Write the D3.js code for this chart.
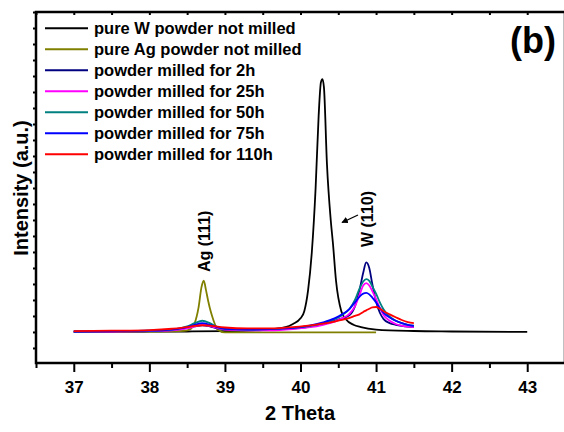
<!DOCTYPE html>
<html>
<head>
<meta charset="utf-8">
<script src="https://cdn.jsdelivr.net/npm/d3@7"></script>
<style>
body { margin: 0; background: #fff; }
text { font-family: "Liberation Sans", Arial, sans-serif; font-weight: bold; }
</style>
</head>
<body>
<script>
// XRD patterns, 2 Theta vs intensity (a.u., arbitrary units)
var xTicks = [37, 38, 39, 40, 41, 42, 43];

// pure W powder not milled
var wX = [37.0, 38.0, 38.5, 39.0, 39.5, 39.8, 39.9, 40.0, 40.05, 40.1, 40.15, 40.2, 40.24, 40.27, 40.29,
          40.31, 40.35, 40.4, 40.43, 40.47, 40.54, 40.6, 40.7, 40.8, 41.0, 41.5, 42.0, 43.0];
var wY = [0.0, 0.02, 0.03, 0.05, 0.12, 0.3, 0.5, 0.85, 1.3, 2.6, 5.0, 9.0, 13.5, 15.6, 15.8,
          15.3, 10.5, 7.0, 5.5, 3.2, 1.3, 0.8, 0.45, 0.3, 0.15, 0.06, 0.03, 0.0];

// pure Ag powder not milled
var agX = [37.0, 38.0, 38.4, 38.5, 38.55, 38.6, 38.65, 38.69, 38.72, 38.75, 38.78, 38.8, 38.83, 38.87,
           38.9, 39.0, 39.5, 40.0, 40.5, 41.0];
var agY = [0.0, 0.02, 0.05, 0.1, 0.2, 0.55, 1.5, 2.8, 3.2, 2.6, 1.9, 1.5, 1.0, 0.45,
           0.15, -0.03, -0.03, -0.03, -0.03, -0.03];

// milled powders
var milledX = [37.0, 37.5, 38.0, 38.3, 38.5, 38.6, 38.7, 38.8, 38.9, 39.0, 39.3, 39.6, 39.9, 40.1, 40.3,
               40.45, 40.55, 40.65, 40.72, 40.78, 40.83, 40.87, 40.91, 40.95, 41.0, 41.05, 41.1, 41.18,
               41.26, 41.34, 41.42, 41.5];
var milled2h = [0.02, 0.03, 0.06, 0.12, 0.25, 0.35, 0.42, 0.35, 0.22, 0.15, 0.12, 0.15, 0.22, 0.32, 0.5,
                0.7, 0.85, 1.05, 1.6, 2.6, 3.7, 4.35, 4.0, 3.0, 1.9, 1.2, 0.8, 0.55,
                0.45, 0.38, 0.33, 0.3];
var milled25h = [0.02, 0.03, 0.05, 0.1, 0.22, 0.35, 0.45, 0.38, 0.25, 0.15, 0.1, 0.1, 0.18, 0.28, 0.45,
                 0.65, 0.85, 1.15, 1.6, 2.3, 2.9, 3.05, 2.9, 2.55, 2.05, 1.5, 1.05, 0.7,
                 0.5, 0.4, 0.33, 0.3];
var milled50h = [0.03, 0.05, 0.08, 0.15, 0.35, 0.55, 0.7, 0.55, 0.3, 0.2, 0.15, 0.18, 0.25, 0.35, 0.55,
                 0.8, 1.05, 1.45, 2.0, 2.7, 3.15, 3.3, 3.2, 2.85, 2.4, 1.85, 1.4, 0.95,
                 0.7, 0.55, 0.45, 0.4];
var milled75h = [0.03, 0.05, 0.08, 0.15, 0.3, 0.45, 0.55, 0.45, 0.3, 0.2, 0.15, 0.18, 0.25, 0.38, 0.6,
                 0.85, 1.1, 1.45, 1.85, 2.2, 2.4, 2.44, 2.35, 2.15, 1.85, 1.5, 1.2, 0.9,
                 0.7, 0.55, 0.45, 0.38];
var milled110h = [0.05, 0.08, 0.12, 0.2, 0.3, 0.38, 0.42, 0.4, 0.33, 0.28, 0.22, 0.22, 0.3, 0.4, 0.52,
                  0.65, 0.75, 0.88, 1.0, 1.1, 1.25, 1.35, 1.45, 1.53, 1.56, 1.45, 1.3, 1.1,
                  0.92, 0.75, 0.62, 0.55];

var seriesNames = ["pure W powder not milled", "pure Ag powder not milled", "powder milled for 2h",
                   "powder milled for 25h", "powder milled for 50h", "powder milled for 75h",
                   "powder milled for 110h"];
var seriesColors = ["#000000", "#808000", "#000080", "#ff00ff", "#008080", "#0000ff", "#ff0000"];

var series = [
  { x: wX, y: wY },
  { x: agX, y: agY },
  { x: milledX, y: milled2h },
  { x: milledX, y: milled25h },
  { x: milledX, y: milled50h },
  { x: milledX, y: milled75h },
  { x: milledX, y: milled110h }
].map(function(s, i) {
  return { name: seriesNames[i], color: seriesColors[i],
           points: s.x.map(function(v, j) { return [v, s.y[j]]; }) };
});

var w = 564, h = 432;
var padLeft = 36, padRight = 565, padTop = 12, padBottom = 363;

var svg = d3.select("body").append("svg")
    .attr("width", w)
    .attr("height", h);

var x = d3.scaleLinear().domain([36.5, 43.5]).range([padLeft, padRight]);
var y = d3.scaleLinear().domain([-1.94, 20]).range([padBottom, padTop]);

var halfTicks = d3.range(36.5, 43.51, 0.5);

// data lines
var line = d3.line()
    .x(function(d) { return x(d[0]); })
    .y(function(d) { return y(d[1]); })
    .curve(d3.curveMonotoneX);

svg.selectAll("path.series")
   .data(series)
   .enter()
   .append("path")
   .attr("class", "series")
   .attr("d", function(d) { return line(d.points); })
   .attr("fill", "none")
   .attr("stroke", function(d) { return d.color; })
   .attr("stroke-width", 1.8)
   .attr("stroke-linejoin", "round");

// bottom axis: major ticks labelled, minor ticks between
var xAxis = svg.append("g")
    .attr("transform", "translate(0," + padBottom + ")")
    .call(d3.axisBottom(x).tickValues(xTicks).tickSize(9).tickFormat(d3.format("d")));
xAxis.selectAll("text").attr("font-size", 17).attr("fill", "#000").attr("dy", "1.05em");
svg.append("g")
   .attr("transform", "translate(0," + padBottom + ")")
   .call(d3.axisBottom(x).tickValues(halfTicks.filter(function(v) { return v % 1 !== 0; }))
         .tickSize(5).tickFormat(""));

// top axis, small inward ticks
svg.append("g")
   .attr("transform", "translate(0," + padTop + ")")
   .call(d3.axisBottom(x).tickValues(halfTicks).tickSize(3).tickFormat(""));

// left axis, no labels
svg.append("g")
   .attr("transform", "translate(" + padLeft + ",0)")
   .call(d3.axisLeft(y).tickValues(d3.range(-1, 20.5, 1)).tickSize(3).tickFormat(""));

svg.selectAll(".domain").attr("stroke", "none");
svg.selectAll(".tick line").attr("stroke", "#000").attr("stroke-width", 2);

// frame
svg.append("rect")
   .attr("x", padLeft)
   .attr("y", padTop)
   .attr("width", padRight - padLeft)
   .attr("height", padBottom - padTop)
   .attr("fill", "none")
   .attr("stroke", "#000")
   .attr("stroke-width", 2.5);

// legend
var legend = svg.selectAll("g.legend")
   .data(series)
   .enter()
   .append("g")
   .attr("class", "legend")
   .attr("transform", function(d, i) { return "translate(45," + (28.3 + i * 21) + ")"; });
legend.append("line")
   .attr("x1", 0).attr("x2", 43)
   .attr("stroke", function(d) { return d.color; })
   .attr("stroke-width", 2);
legend.append("text")
   .attr("x", 49)
   .attr("y", 6)
   .attr("font-size", 16.5)
   .text(function(d) { return d.name; });

// panel label
svg.append("text")
   .attr("x", 556)
   .attr("y", 53)
   .attr("text-anchor", "end")
   .attr("font-size", 36)
   .text("(b)");

// peak labels
svg.append("text")
   .attr("transform", "translate(209.5,272) rotate(-90)")
   .attr("font-size", 16)
   .text("Ag (111)");
svg.append("text")
   .attr("transform", "translate(373,247) rotate(-90)")
   .attr("font-size", 16)
   .text("W (110)");

// arrow towards the W peak
svg.append("defs").append("marker")
   .attr("id", "head")
   .attr("viewBox", "0 0 10 10")
   .attr("refX", 9).attr("refY", 5)
   .attr("markerWidth", 5).attr("markerHeight", 5)
   .attr("orient", "auto")
   .append("path")
   .attr("d", "M0,0L10,5L0,10Z")
   .attr("fill", "#000");
svg.append("line")
   .attr("x1", 358).attr("y1", 215)
   .attr("x2", 342).attr("y2", 222.5)
   .attr("stroke", "#000")
   .attr("stroke-width", 1.3)
   .attr("marker-end", "url(#head)");

// axis titles
svg.append("text")
   .attr("x", 300)
   .attr("y", 420)
   .attr("text-anchor", "middle")
   .attr("font-size", 20)
   .text("2 Theta");
svg.append("text")
   .attr("transform", "translate(28,188) rotate(-90)")
   .attr("text-anchor", "middle")
   .attr("font-size", 20)
   .text("Intensity (a.u.)");
</script>
</body>
</html>
